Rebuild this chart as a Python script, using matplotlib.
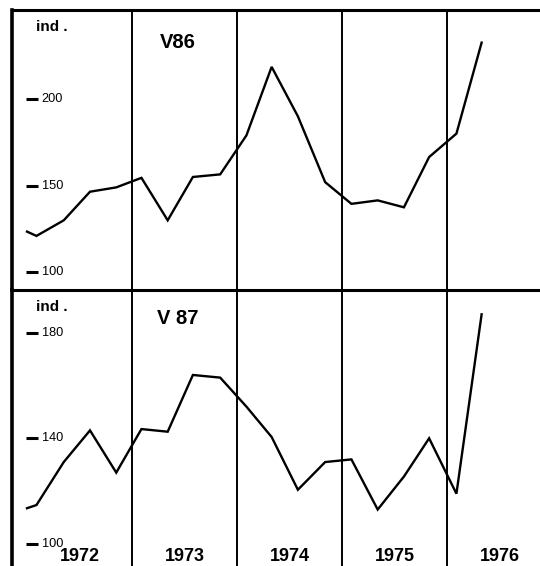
import matplotlib
matplotlib.use("Agg")
import matplotlib.pyplot as plt

plt.rcParams['font.family'] = ['Liberation Sans', 'DejaVu Sans']

# quarterly readings (fractional years)
x_trim = [1972.0, 1972.09, 1972.35, 1972.6, 1972.85, 1973.09, 1973.34, 1973.58, 1973.84,
          1974.09, 1974.33, 1974.58, 1974.84, 1975.09, 1975.34, 1975.59, 1975.83, 1976.09, 1976.33]
v86 = [123.5, 121, 130, 146.5, 149, 154.5, 130, 155, 156.5,
       179, 218.5, 190, 152, 139.5, 141.5, 137.5, 166.5, 180, 232.5]
v87 = [113.5, 114.7, 131, 143, 127, 143.5, 142.5, 164, 163,
       152, 140.5, 120.5, 131, 132, 113, 125.5, 140, 119, 187]

annees = [1972, 1973, 1974, 1975, 1976]
ticks86 = [100, 150, 200]
ticks87 = [100, 140, 180]

fig = plt.figure(figsize=(5.4, 5.66), dpi=100)
ax1 = fig.add_axes([0.0222, 0.4876, 0.9778, 0.4947])
ax2 = fig.add_axes([0.0222, 0.0, 0.9778, 0.4876])

xlim = (1971.857, 1976.886)


def panneau(ax, y, ylim, ticks, titre, ty):
    ax.plot(x_trim, y, color='black', lw=1.7, solid_joinstyle='miter')
    ax.set_xlim(xlim)
    ax.set_ylim(ylim)
    ax.set_xticks([])
    ax.set_yticks([])
    for a in annees[1:]:
        ax.axvline(a, color='black', lw=1.4)
    # graduations dessinées dans le cadre
    ax.plot([1972.048] * len(ticks), ticks, ls='none', marker='_', ms=9, mew=2.2, color='black')
    for t in ticks:
        ax.text(1972.14, t, str(t), fontsize=9.2, va='center', ha='left')
    ax.text(1972.09, ylim[1] - (ylim[1] - ylim[0]) * 0.06, 'ind .', fontsize=11,
            fontweight='bold', va='center', ha='left')
    ax.text(1973.44, ty, titre, fontsize=14.5, fontweight='bold', va='center', ha='center')
    for s in ['right', 'bottom']:
        ax.spines[s].set_visible(False)
    ax.spines['left'].set_linewidth(2.6)
    ax.spines['top'].set_linewidth(2.2)


panneau(ax1, v86, (89.8, 251.3), ticks86, 'V86', 232.5)
panneau(ax2, v87, (91.6, 196.2), ticks87, 'V 87', 185.5)

for a in annees:
    ax2.text(a + 0.5, 95.3, str(a), fontsize=13, fontweight='bold', ha='center', va='center')

fig.savefig('out.png', dpi=100)
